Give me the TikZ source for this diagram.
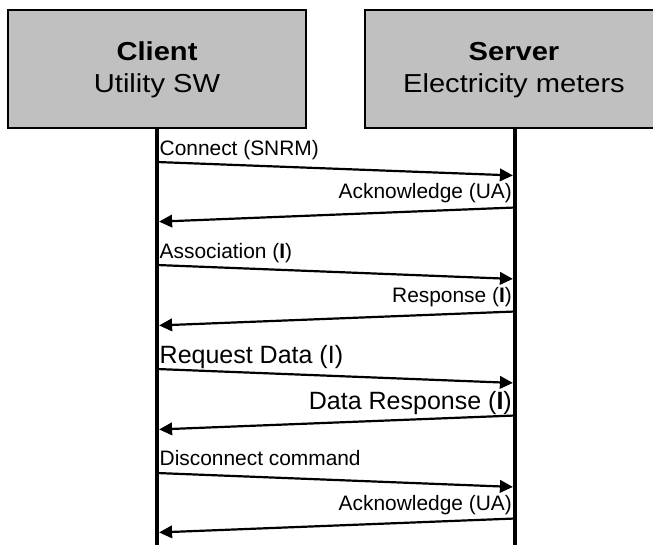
\documentclass[tikz,border=0pt]{standalone}
\usepackage{fontspec}
\setmainfont{Liberation Sans}
\usetikzlibrary{arrows.meta}
\definecolor{boxgray}{HTML}{C0C0C0}
\tikzset{
  actorbox/.style={draw=black, line width=1.3pt, fill=boxgray},
  lifeline/.style={line width=4.3pt},
  msg/.style={line width=2.2pt, -{Triangle[length=13pt,width=12.5pt]}, shorten >=2.1pt, shorten <=2.1pt},
  titletext/.style={inner sep=0pt, anchor=base, font=\fontsize{26}{30}\selectfont},
  lbl/.style={inner sep=0pt, font=\fontsize{20.9}{24}\selectfont},
  biglbl/.style={inner sep=0pt, font=\fontsize{25}{29}\selectfont},
}
\begin{document}
\begin{tikzpicture}[x=1pt, y=-1pt]
  \useasboundingbox (0,0) rectangle (653,547);

  % participant boxes (the server box runs past the right margin)
  \begin{scope}
    \clip (0,0) rectangle (653,547);
    \draw[actorbox] (8,10) rectangle (306,128);
    \draw[actorbox] (365,10) rectangle (665,128);
  \end{scope}
  \node[titletext] (clientT) at (157,60.7) {\scalebox{1.12}[1]{\bfseries Client}};
  \node[titletext] (clientS) at (157,92.3) {\scalebox{1.12}[1]{Utility SW}};
  \node[titletext] (serverT) at (514,60.7) {\scalebox{1.12}[1]{\bfseries Server}};
  \node[titletext] (serverS) at (514,92.3) {\scalebox{1.12}[1]{Electricity meters}};

  % lifelines
  \coordinate (ctop) at (157,128);
  \coordinate (cbot) at (157,545);
  \coordinate (stop) at (515,128);
  \coordinate (sbot) at (515,545);
  \draw[lifeline] (ctop) -- (cbot);
  \draw[lifeline] (stop) -- (sbot);

  % message end points on the lifelines
  \coordinate (c1) at (157,162);   \coordinate (s1) at (515,175.5);
  \coordinate (s2) at (515,207.5); \coordinate (c2) at (157,221.7);
  \coordinate (c3) at (157,265);   \coordinate (s3) at (515,279);
  \coordinate (s4) at (515,311.5); \coordinate (c4) at (157,325.5);
  \coordinate (c5) at (157,369);   \coordinate (s5) at (515,383);
  \coordinate (s6) at (515,415.5); \coordinate (c6) at (157,429.5);
  \coordinate (c7) at (157,473);   \coordinate (s7) at (515,487);
  \coordinate (s8) at (515,518.5); \coordinate (c8) at (157,532.5);

  % messages
  \draw[msg] (c1) -- (s1);
  \draw[msg] (s2) -- (c2);
  \draw[msg] (c3) -- (s3);
  \draw[msg] (s4) -- (c4);
  \draw[msg] (c5) -- (s5);
  \draw[msg] (s6) -- (c6);
  \draw[msg] (c7) -- (s7);
  \draw[msg] (s8) -- (c8);

  % message labels
  \node[lbl, anchor=base west] (l1) at (159.5,155) {Connect (SNRM)};
  \node[lbl, anchor=base east] (l2) at (512,198.5) {Acknowledge (UA)};
  \node[lbl, anchor=base west] (l3) at (159.5,258.3) {Association (\textbf{I})};
  \node[lbl, anchor=base east] (l4) at (512,302.7) {Response (\textbf{I})};
  \node[biglbl, anchor=base west] (l5) at (159.5,363.3) {Request Data (I)};
  \node[biglbl, anchor=base east] (l6) at (512,409.5) {Data Response (\textbf{I})};
  \node[lbl, anchor=base west] (l7) at (159.5,465.5) {Disconnect command};
  \node[lbl, anchor=base east] (l8) at (512,510) {Acknowledge (UA)};
\end{tikzpicture}
\end{document}
